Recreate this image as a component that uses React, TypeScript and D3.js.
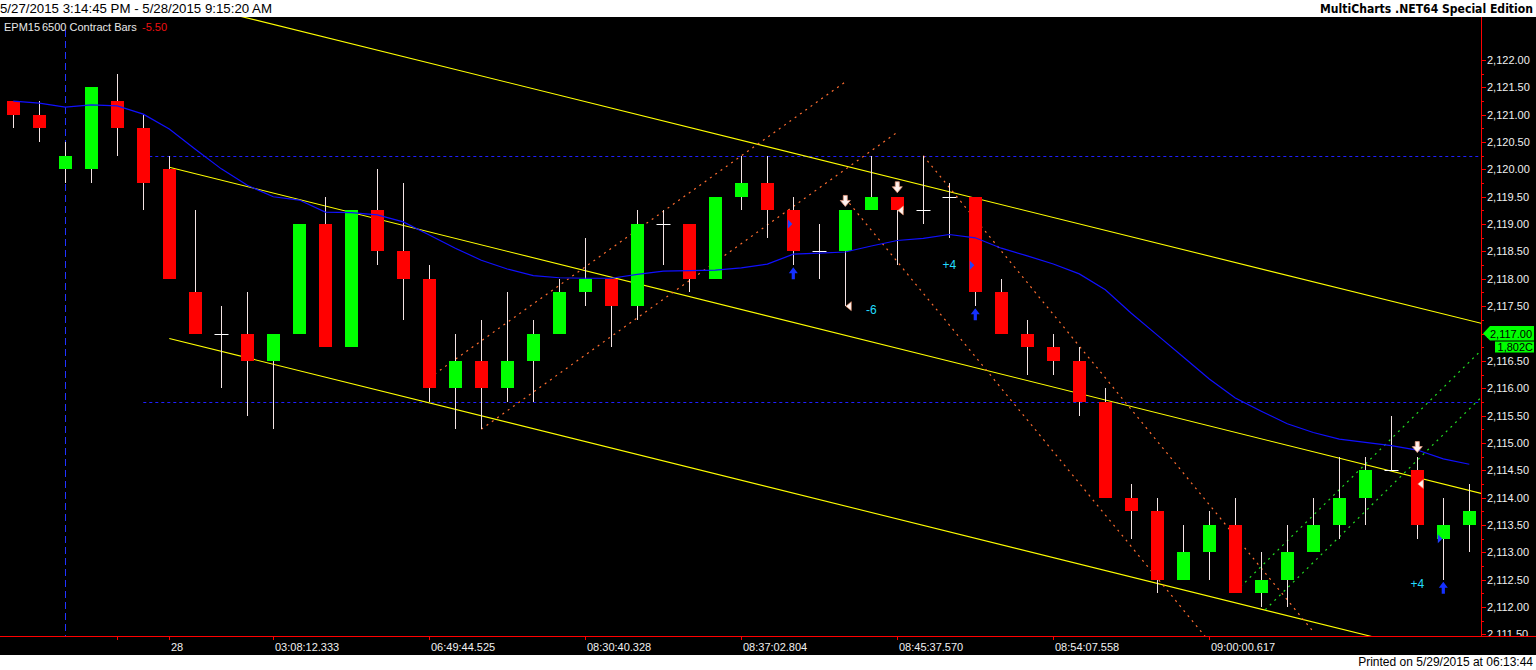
import React from 'react';
import * as d3 from 'd3';

const W = 1536;
const H = 670;

// ---- data ----
const opens = [2121.25, 2121.0, 2120.0, 2120.0, 2121.25, 2120.75, 2120.0, 2117.75, 2117.0, 2117.0,
  2116.5, 2117.0, 2119.0, 2116.75, 2119.25, 2118.5, 2118.0, 2116.0, 2116.5, 2116.0,
  2116.5, 2117.0, 2117.75, 2118.0, 2117.5, 2119.0, 2119.0, 2118.0, 2119.5, 2119.75,
  2119.25, 2118.5, 2118.5, 2119.25, 2119.5, 2119.25, 2119.5, 2119.5, 2117.75, 2117.0,
  2116.75, 2116.5, 2115.75, 2114.0, 2113.75, 2112.5, 2113.0, 2113.5, 2112.25, 2112.5,
  2113.0, 2113.5, 2114.0, 2114.5, 2114.5, 2113.25, 2113.5];
const highs = [2121.25, 2121.25, 2120.5, 2121.5, 2121.75, 2121.0, 2120.25, 2119.25, 2117.5, 2117.75,
  2117.0, 2119.0, 2119.5, 2119.25, 2120.0, 2119.75, 2118.25, 2117.0, 2117.25, 2117.75,
  2117.25, 2118.0, 2118.75, 2118.0, 2119.25, 2119.25, 2119.0, 2119.5, 2120.25, 2120.25,
  2119.5, 2119.0, 2119.25, 2120.25, 2119.5, 2120.25, 2119.75, 2119.5, 2118.0, 2117.25,
  2117.0, 2116.75, 2116.0, 2114.25, 2114.0, 2113.5, 2113.75, 2114.0, 2113.0, 2113.5,
  2114.0, 2114.75, 2114.75, 2115.5, 2114.75, 2114.0, 2114.25];
const lows = [2120.75, 2120.5, 2119.75, 2119.75, 2120.25, 2119.25, 2118.0, 2117.0, 2116.0, 2115.5,
  2115.25, 2117.0, 2116.75, 2116.75, 2118.25, 2117.25, 2115.75, 2115.25, 2115.25, 2115.75,
  2115.75, 2117.0, 2117.5, 2116.75, 2117.25, 2118.25, 2117.75, 2118.0, 2119.25, 2118.75,
  2118.25, 2118.0, 2117.5, 2119.25, 2118.25, 2119.0, 2118.75, 2117.5, 2117.0, 2116.25,
  2116.25, 2115.5, 2114.0, 2113.25, 2112.25, 2112.5, 2112.5, 2112.25, 2112.0, 2112.0,
  2113.0, 2113.25, 2113.5, 2114.5, 2113.25, 2112.5, 2113.0];
const closes = [2121.0, 2120.75, 2120.25, 2121.5, 2120.75, 2119.75, 2118.0, 2117.0, 2117.0, 2116.5,
  2117.0, 2119.0, 2116.75, 2119.25, 2118.5, 2118.0, 2116.0, 2116.5, 2116.0, 2116.5,
  2117.0, 2117.75, 2118.0, 2117.5, 2119.0, 2119.0, 2118.0, 2119.5, 2119.75, 2119.25,
  2118.5, 2118.5, 2119.25, 2119.5, 2119.25, 2119.25, 2119.5, 2117.75, 2117.0, 2116.75,
  2116.5, 2115.75, 2114.0, 2113.75, 2112.5, 2113.0, 2113.5, 2112.25, 2112.5, 2113.0,
  2113.5, 2114.0, 2114.5, 2114.5, 2113.5, 2113.5, 2113.75];
const maValues = [2121.25, 2121.21, 2121.14, 2121.18, 2121.16, 2121.01, 2120.74, 2120.37, 2120.01, 2119.71,
  2119.5, 2119.44, 2119.22, 2119.21, 2119.17, 2119.04, 2118.8, 2118.56, 2118.34, 2118.18,
  2118.06, 2118.02, 2118.01, 2118.01, 2118.08, 2118.14, 2118.15, 2118.16, 2118.2, 2118.27,
  2118.45, 2118.47, 2118.49, 2118.6, 2118.7, 2118.74, 2118.81, 2118.75, 2118.56, 2118.42,
  2118.27, 2118.09, 2117.8, 2117.37, 2116.97, 2116.57, 2116.17, 2115.82, 2115.58, 2115.35,
  2115.19, 2115.07, 2115.01, 2114.95, 2114.87, 2114.71, 2114.61];

const yTicks = [2111.5, 2112, 2112.5, 2113, 2113.5, 2114, 2114.5, 2115, 2115.5, 2116, 2116.5,
  2117, 2117.5, 2118, 2118.5, 2119, 2119.5, 2120, 2120.5, 2121, 2121.5, 2122];
const xTickBars = [4, 6, 10, 16, 22, 28, 34, 40, 46];
const xTickLabels = ['', '28', '03:08:12.333', '06:49:44.525', '08:30:40.328', '08:37:02.804',
  '08:45:37.570', '08:54:07.558', '09:00:00.617'];

const sessionBreakBar = 2;
const levelStartBar = 5;
const levelPrices = [2120.25, 2115.75];

// trend lines: [bar1, price1, bar2, price2]
const yellowLines = [[6, 2123.12, 56, 2117.24], [6, 2120.04, 56, 2114.13], [6, 2116.91, 52, 2111.49]];
const orangeLines = [[16, 2116.19, 32, 2121.6], [18, 2115.25, 34, 2120.68], [35, 2120.25, 50, 2111.55], [32, 2119.47, 46, 2111.37]];
const greenLines = [[47.2, 2112.37, 56.45, 2116.69], [48.15, 2111.95, 56.45, 2115.83]];

const buyArrowBars = [30, 37, 55];
const sellArrowBars = [32, 34, 54];
const entryMarks = [[30, 2119.0], [37, 2118.25], [55, 2113.25]];
const exitMarks = [[32, 2117.5], [34, 2119.25], [54, 2114.25]];
const tradeLabels: [number, number, string][] = [[33, 2117.43, '-6'], [36, 2118.25, '+4'], [54, 2112.42, '+4']];

const lastPrice = 2117.0;
const lastVolumeLabel = '1,802C';

const headerLeft = '5/27/2015 3:14:45 PM - 5/28/2015 9:15:20 AM';
const headerRight = 'MultiCharts .NET64 Special Edition';
const footerText = 'Printed on 5/29/2015 at 06:13:44';
const symbolText = 'EPM15';
const barTypeText = '6500 Contract Bars';
const changeText = '-5.50';

// ---- layout ----
const PLOT_TOP = 17;
const PLOT_BOTTOM = 637;
const PLOT_RIGHT = 1481;
const FONT = '"Liberation Sans", Arial, sans-serif';

const x = d3.scaleLinear().domain([0, 56]).range([13.3, 1469.3]);
const y = d3.scaleLinear().domain([2111.5, 2122]).range([634.4, 60]);
const fmt = d3.format(',.2f');

const px = (v: number) => Math.round(v) + 0.5;

function extendLine(l: number[], toBar: number | null) {
  const [b1, p1, b2, p2] = l;
  if (toBar === null) return l;
  const slope = (p2 - p1) / (b2 - b1);
  return [b1, p1, toBar, p1 + slope * (toBar - b1)];
}

export default function App() {
  const maLine = d3.line<number>().x((_, i) => x(i)).y((d) => y(d))(maValues) || '';
  const edgeBar = x.invert(PLOT_RIGHT + 5);
  const minorTicks = d3.pairs(yTicks).map(([a, b]) => (a + b) / 2);

  return (
    <svg width={W} height={H} style={{ position: 'absolute', left: 0, top: 0, display: 'block' }}
      fontFamily={FONT}>
      <defs>
        <clipPath id="plotClip">
          <rect x={0} y={PLOT_TOP} width={PLOT_RIGHT} height={PLOT_BOTTOM - PLOT_TOP} />
        </clipPath>
        <clipPath id="axisClip">
          <rect x={PLOT_RIGHT} y={PLOT_TOP} width={W - PLOT_RIGHT} height={PLOT_BOTTOM - PLOT_TOP} />
        </clipPath>
      </defs>
      <rect x={0} y={0} width={W} height={H} fill="#ffffff" />
      <rect x={0} y={PLOT_TOP} width={W} height={655 - PLOT_TOP} fill="#000000" />

      {/* header */}
      <text x={0} y={13} fontSize={13} fill="#000" textLength={272} lengthAdjust="spacingAndGlyphs">{headerLeft}</text>
      <text x={1533} y={13} fontSize={12} fontWeight="bold" fill="#000" textAnchor="end"
        fontFamily='"DejaVu Sans", Tahoma, sans-serif' textLength={213} lengthAdjust="spacingAndGlyphs">{headerRight}</text>

      <g clipPath="url(#plotClip)">
        {/* session break */}
        <line x1={px(x(sessionBreakBar))} x2={px(x(sessionBreakBar))} y1={30} y2={PLOT_BOTTOM}
          stroke="#2233ff" strokeDasharray="7,4" />
        {/* horizontal levels */}
        {levelPrices.map((p, i) => (
          <line key={'lv' + i} x1={x(levelStartBar)} x2={PLOT_RIGHT} y1={px(y(p))} y2={px(y(p))}
            stroke="#1f1fff" strokeDasharray="3,3" />
        ))}
        {/* yellow channel */}
        {yellowLines.map((l, i) => {
          const [b1, p1, b2, p2] = extendLine(l, edgeBar);
          return <line key={'yl' + i} x1={x(b1)} y1={y(p1)} x2={x(b2)} y2={y(p2)} stroke="#ffff00" strokeWidth={1.1} />;
        })}
        {/* orange dotted */}
        {orangeLines.map((l, i) => {
          const [b1, p1, b2, p2] = l;
          return <line key={'ol' + i} x1={x(b1)} y1={y(p1)} x2={x(b2)} y2={y(p2)} stroke="#ff6e30" strokeWidth={1.2} strokeDasharray="2,4.5" />;
        })}
        {/* green dotted */}
        {greenLines.map((l, i) => {
          const [b1, p1, b2, p2] = extendLine(l, edgeBar);
          return <line key={'gl' + i} x1={x(b1)} y1={y(p1)} x2={x(b2)} y2={y(p2)} stroke="#22dd22" strokeWidth={1.2} strokeDasharray="2,4.5" />;
        })}

        {/* candles */}
        {opens.map((o, i) => {
          const c = closes[i];
          const cx = px(x(i));
          const wick = <line x1={cx} x2={cx} y1={Math.round(y(highs[i]))} y2={Math.round(y(lows[i]))} stroke="#f4e4e4" />;
          if (o === c) {
            return (
              <g key={'c' + i}>
                {wick}
                <line x1={cx - 7} x2={cx + 7} y1={px(y(o))} y2={px(y(o))} stroke="#ffffff" />
              </g>
            );
          }
          const top = Math.round(y(Math.max(o, c)));
          const bot = Math.round(y(Math.min(o, c)));
          return (
            <g key={'c' + i}>
              {wick}
              <rect x={Math.round(x(i) - 6.5)} y={top} width={13} height={Math.max(1, bot - top)}
                fill={c > o ? '#00ff00' : '#ff0000'} shapeRendering="crispEdges" />
            </g>
          );
        })}

        {/* moving average */}
        <path d={maLine} fill="none" stroke="#1010ff" strokeWidth={1.2} />

        {/* strategy markers */}
        {buyArrowBars.map((b) => {
          const cx = x(b);
          const t = y(lows[b]) + 2;
          return (
            <path key={'ba' + b}
              d={`M${cx},${t} L${cx + 4.5},${t + 6} L${cx + 1.6},${t + 6} L${cx + 1.6},${t + 12} L${cx - 1.6},${t + 12} L${cx - 1.6},${t + 6} L${cx - 4.5},${t + 6} Z`}
              fill="#1530ff" />
          );
        })}
        {sellArrowBars.map((b) => {
          const cx = x(b);
          const bt = y(highs[b]) - 4;
          return (
            <path key={'sa' + b}
              d={`M${cx},${bt} L${cx + 5},${bt - 6} L${cx + 2},${bt - 6} L${cx + 2},${bt - 11} L${cx - 2},${bt - 11} L${cx - 2},${bt - 6} L${cx - 5},${bt - 6} Z`}
              fill="#fff1ee" stroke="#e49a80" strokeWidth={0.8} />
          );
        })}
        {entryMarks.map(([b, p]) => {
          const cx = x(b);
          const cy = y(p);
          return <path key={'en' + b} d={`M${cx - 5.5},${cy - 4.5} L${cx - 1},${cy} L${cx - 5.5},${cy + 4.5} Z`} fill="#2040ff" />;
        })}
        {exitMarks.map(([b, p]) => {
          const cx = x(b);
          const cy = y(p);
          return <path key={'ex' + b} d={`M${cx + 0.5},${cy} L${cx + 6},${cy - 4.5} L${cx + 6},${cy + 4.5} Z`} fill="#fff4f0" stroke="#e88a60" strokeWidth={0.6} />;
        })}
        {tradeLabels.map(([b, p, t], i) => (
          <text key={'tl' + i} x={x(b)} y={y(p) + 4} fontSize={12} fill="#22ddff" textAnchor="middle">{t}</text>
        ))}
      </g>

      {/* legend */}
      <text x={4} y={31} fontSize={11} fill="#e8e8e8">{symbolText}</text>
      <text x={42} y={31} fontSize={11} fill="#e8e8e8">{barTypeText}</text>
      <text x={142} y={31} fontSize={11} fill="#ee1111">{changeText}</text>

      {/* y axis */}
      <line x1={PLOT_RIGHT + 0.5} x2={PLOT_RIGHT + 0.5} y1={PLOT_TOP} y2={PLOT_BOTTOM} stroke="#ff0000" />
      <g clipPath="url(#axisClip)">
        {yTicks.map((t) => (
          <g key={'yt' + t}>
            <line x1={PLOT_RIGHT} x2={PLOT_RIGHT + 5} y1={px(y(t))} y2={px(y(t))} stroke="#ff0000" />
            <text x={PLOT_RIGHT + 6} y={y(t) + 4} fontSize={11} fill="#f0f0f0">{fmt(t)}</text>
          </g>
        ))}
        {minorTicks.map((t) => (
          <line key={'ym' + t} x1={PLOT_RIGHT} x2={PLOT_RIGHT + 3} y1={px(y(t))} y2={px(y(t))} stroke="#ff0000" />
        ))}
        {/* last price marker */}
        <path d={`M${PLOT_RIGHT + 2},${y(lastPrice)} L${PLOT_RIGHT + 9},${y(lastPrice) - 7.5} L${W - 2},${y(lastPrice) - 7.5} L${W - 2},${y(lastPrice) + 7} L${PLOT_RIGHT + 9},${y(lastPrice) + 7} Z`}
          fill="#00ff00" />
        <text x={PLOT_RIGHT + 9} y={y(lastPrice) + 4} fontSize={11} fill="#000">{fmt(lastPrice)}</text>
        <rect x={1495} y={y(lastPrice) + 8} width={W - 2 - 1495} height={11} fill="#00ff00" />
        <text x={W - 3} y={y(lastPrice) + 17.5} fontSize={11} fill="#000" textAnchor="end">{lastVolumeLabel}</text>
      </g>

      {/* x axis */}
      <line x1={0} x2={W} y1={PLOT_BOTTOM - 0.5} y2={PLOT_BOTTOM - 0.5} stroke="#ff0000" />
      {xTickBars.map((b, i) => (
        <g key={'xt' + b}>
          <line x1={px(x(b))} x2={px(x(b))} y1={PLOT_BOTTOM} y2={PLOT_BOTTOM + 3} stroke="#ff0000" />
          <text x={px(x(b)) + 1.5} y={651} fontSize={11} fill="#f0f0f0">{xTickLabels[i]}</text>
        </g>
      ))}

      {/* footer */}
      <text x={1533} y={666} fontSize={12} fill="#000" textAnchor="end">{footerText}</text>
    </svg>
  );
}
